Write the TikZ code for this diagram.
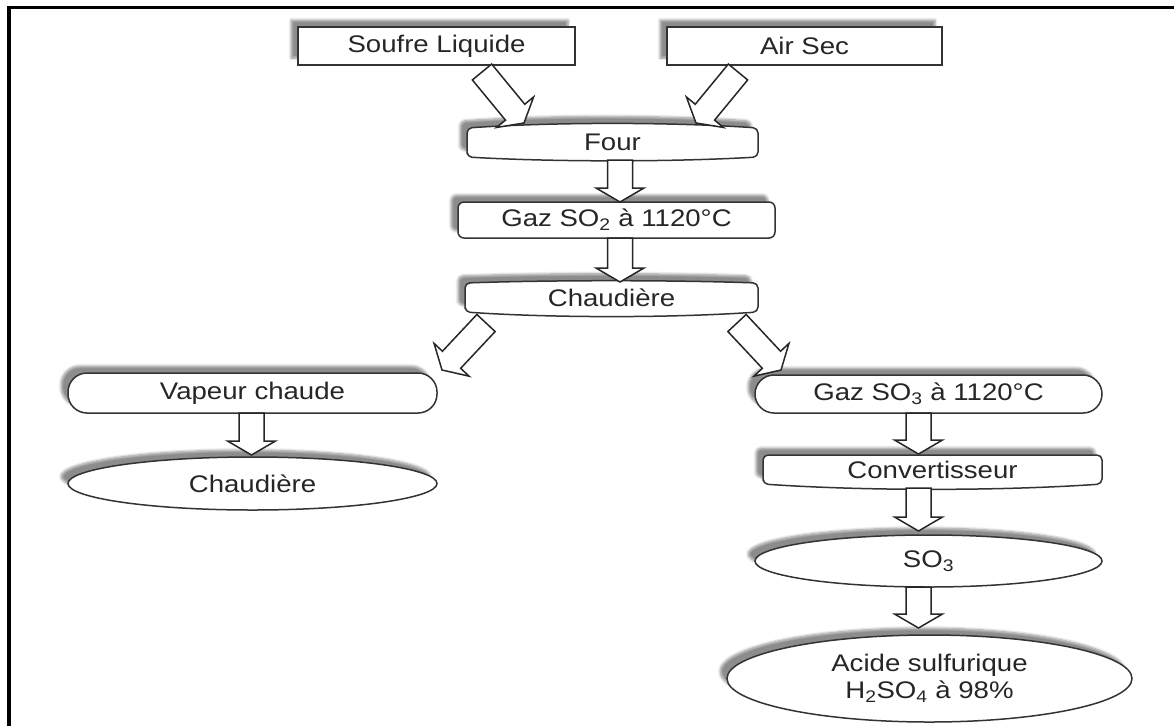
\documentclass[tikz,border=0pt]{standalone}
\usepackage{fontspec}
\setmainfont{Liberation Sans}[FakeStretch=1.15]
\usetikzlibrary{calc,shadows.blur,backgrounds,shapes.geometric}

\tikzset{
  boxline/.style={draw=black!80, line width=1.5pt, fill=white},
  shade box/.style={blur shadow={shadow xshift=-7pt, shadow yshift=7pt,
      shadow blur radius=2.5pt, shadow blur steps=6, shadow opacity=45}},
  label text/.style={text=black!85, font=\fontsize{24}{27}\selectfont,
      inner sep=0pt, outer sep=0pt, align=center},
  squarebox/.style={label text, rectangle, boxline, shade box},
  softbox/.style={label text, rectangle, rounded corners=6pt, boxline, shade box},
  pillbox/.style={label text, rectangle, rounded corners=19pt, boxline, shade box},
  ovalbox/.style={label text, ellipse, boxline, shade box},
  barebox/.style={label text, rectangle},
  arrowbody/.style={draw=black!85, line width=1.5pt, fill=white, line join=miter},
  frameline/.style={line width=3.5pt, black}
}

% hollow block arrow from #1 to the tip #2
\newcommand\blockarrow[2]{%
  \coordinate (hb) at ($(#2)!14pt!(#1)$);
  \draw[arrowbody]
    ($(#1)!12.5pt!90:(#2)$) -- ($(hb)!12.5pt!-90:(#1)$) -- ($(hb)!24pt!-90:(#1)$)
    -- (#2)
    -- ($(hb)!24pt!90:(#1)$) -- ($(hb)!12.5pt!90:(#1)$) -- ($(#1)!12.5pt!-90:(#2)$) -- cycle;
}

% box whose top and bottom edges bow outwards
\newcommand\bowbox[3]{%
  \draw[boxline, shade box, rounded corners=5pt]
    (#1.south west) -- (#1.north west)
    .. controls ($(#1.north west)!0.3!(#1.north east)+(0pt,#2)$)
           and ($(#1.north west)!0.7!(#1.north east)+(0pt,#2)$) .. (#1.north east)
    -- (#1.south east)
    .. controls ($(#1.south west)!0.7!(#1.south east)+(0pt,-#3)$)
           and ($(#1.south west)!0.3!(#1.south east)+(0pt,-#3)$) .. (#1.south west)
    -- cycle;
}

\begin{document}
\begin{tikzpicture}[x=1pt, y=-1pt]
\useasboundingbox (0,0) rectangle (1174,726);

% page frame
\draw[frameline] (9,726) -- (9,7.5) -- (1174,7.5);

% inputs
\node[squarebox, minimum width=277pt, minimum height=38pt] (soufre) at (436.5,46) {Soufre Liquide};
\node[squarebox, minimum width=275pt, minimum height=38pt] (air) at (804.5,46) {Air Sec};

% main line
\node[barebox, minimum width=291pt, minimum height=29pt] (four) at (612.5,142.5) {Four};
\node[softbox, minimum width=317pt, minimum height=36pt] (gaz2) at (616.5,220) {Gaz SO\textsubscript{2} à 1120°C};
\node[barebox, minimum width=293pt, minimum height=29pt] (chaud1) at (611.5,297.5) {Chaudière};

% left branch
\node[pillbox, minimum width=369pt, minimum height=40pt] (vapeur) at (252.5,393) {Vapeur chaude};
\node[ovalbox, minimum width=369pt, minimum height=53pt] (chaud2) at (252.5,483.5) {Chaudière};

% right branch
\node[pillbox, minimum width=347pt, minimum height=38pt] (gaz3) at (928.5,394) {Gaz SO\textsubscript{3} à 1120°C};
\node[barebox, minimum width=339pt, minimum height=29pt] (conv) at (932.5,469.5) {Convertisseur};
\node[ovalbox, minimum width=347pt, minimum height=52pt] (so3) at (928.5,561) {SO\textsubscript{3}};
\node[ovalbox, minimum width=405pt, minimum height=87pt] (acide) at (929.5,678.5)
  {Acide sulfurique\\H\textsubscript{2}SO\textsubscript{4} à 98\%};

% bowed outlines behind the bare labels
\begin{scope}[on background layer]
  \bowbox{four}{6pt}{5pt}
  \bowbox{chaud1}{3pt}{6pt}
  \bowbox{conv}{0pt}{7pt}
\end{scope}

% arrow end points
\coordinate (s1) at ($(soufre.south)+(45.5,7)$);
\coordinate (t1) at ($(four.north)+(-88.5,-5)$);
\coordinate (s2) at ($(air.south)+(-66.5,7)$);
\coordinate (t2) at ($(four.north)+(83.5,-5)$);
\coordinate (s3) at ($(four.south)+(7.5,3)$);
\coordinate (t3) at ($(gaz2.north)+(3.5,0)$);
\coordinate (s4) at ($(gaz2.south)+(3.5,0)$);
\coordinate (t4) at ($(chaud1.north)+(8.5,-1)$);
\coordinate (s5) at ($(chaud1.south)+(-125.5,11)$);
\coordinate (t5) at ($(vapeur.north)+(189.5,-3)$);
\coordinate (s6) at ($(chaud1.south)+(125.5,11)$);
\coordinate (t6) at ($(gaz3.north)+(-147.5,-5)$);
\coordinate (s7) at ($(vapeur.south)+(-1,0)$);
\coordinate (t7) at ($(chaud2.north)+(-1,-2)$);
\coordinate (s8) at ($(gaz3.south)+(-10,0)$);
\coordinate (t8) at ($(conv.north)+(-14,-1)$);
\coordinate (s9) at ($(conv.south)+(-14,4)$);
\coordinate (t9) at ($(so3.north)+(-10,-4)$);
\coordinate (s10) at ($(so3.south)+(-10,0)$);
\coordinate (t10) at ($(acide.north)+(-11,-7)$);

\blockarrow{s1}{t1}
\blockarrow{s2}{t2}
\blockarrow{s3}{t3}
\blockarrow{s4}{t4}
\blockarrow{s5}{t5}
\blockarrow{s6}{t6}
\blockarrow{s7}{t7}
\blockarrow{s8}{t8}
\blockarrow{s9}{t9}
\blockarrow{s10}{t10}
\end{tikzpicture}
\end{document}
